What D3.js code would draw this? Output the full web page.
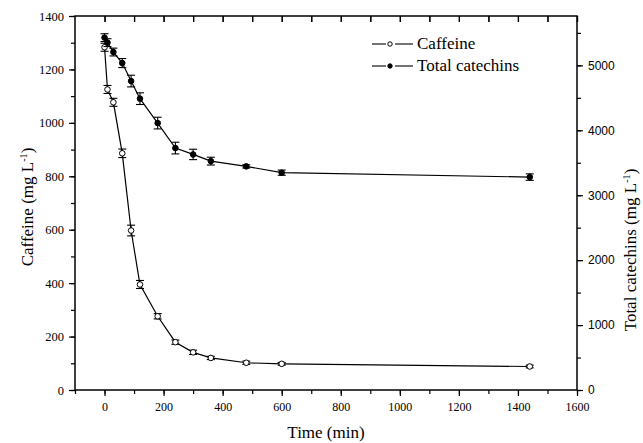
<!DOCTYPE html>
<html>
<head>
<meta charset="utf-8">
<script src="https://cdn.jsdelivr.net/npm/d3@7"></script>
<style>
    body { margin: 0; background: #fff; }
</style>
</head>
<body>
<svg id="canvas" width="643" height="443"></svg>
<script>
// sampling times (min)
const times = [0, 10, 30, 60, 90, 120, 180, 240, 300, 360, 480, 600, 1440];
// caffeine (mg/L) and its error
const caffeine = [1283, 1125, 1077, 886, 597, 395, 276, 179, 141, 120, 102, 98, 88];
const caffeineErr = [15, 15, 15, 16, 20, 15, 10, 8, 8, 6, 6, 5, 5];
// total catechins (mg/L) and its error
const catechins = [5427, 5350, 5205, 5035, 4758, 4487, 4111, 3726, 3628, 3525, 3444, 3347, 3279];
const catechinsErr = [60, 60, 60, 70, 90, 90, 90, 90, 80, 60, 25, 40, 50];

const xTicks = [0, 200, 400, 600, 800, 1000, 1200, 1400, 1600];
const leftTicks = [0, 200, 400, 600, 800, 1000, 1200, 1400];
const rightTicks = [0, 1000, 2000, 3000, 4000, 5000];

const SERIF = "'Liberation Serif', 'Times New Roman', Times, serif";
const SANS = "'Liberation Sans', Arial, Helvetica, sans-serif";

const svg = d3.select("#canvas");
const plotLeft = 75, plotRight = 577, plotTop = 16, plotBottom = 390;

const x = d3.scaleLinear().domain([-100, 1600]).range([plotLeft, plotRight]);
const yL = d3.scaleLinear().domain([0, 1400]).range([plotBottom, plotTop]);
const yR = d3.scaleLinear().domain([0, 5760]).range([plotBottom, plotTop]);

/**
 * Draws an axis with long major ticks and short minor ticks, no domain path.
 */
function drawAxis(axisFn, scale, pos, majors, minors, majorLen, minorLen, labels, family, size) {
    const gMinor = svg.append("g").attr("transform", pos)
        .call(axisFn(scale).tickValues(minors).tickSize(minorLen).tickFormat(""));
    gMinor.select(".domain").remove();
    const gMajor = svg.append("g").attr("transform", pos)
        .call(axisFn(scale).tickValues(majors).tickSize(majorLen).tickPadding(5)
            .tickFormat(labels ? d3.format("d") : ""));
    gMajor.select(".domain").remove();
    gMajor.selectAll("text")
        .style("font-family", family)
        .style("font-size", size + "px")
        .attr("fill", "#000");
    svg.selectAll("g .tick line").attr("stroke", "#000").attr("stroke-width", 1.2);
    return gMajor;
}

// bottom axis
const gx = drawAxis(d3.axisBottom, x, `translate(0,${plotBottom})`, xTicks,
    d3.range(-100, 1601, 100), 6, 4, true, SERIF, 12);
gx.selectAll("text").attr("dy", "0.85em");
// top axis (inward ticks)
drawAxis(d3.axisBottom, x, `translate(0,${plotTop})`, d3.range(0, 1601, 100),
    d3.range(0, 1601, 100), 6, 6, false, SERIF, 12);
// left axis
drawAxis(d3.axisLeft, yL, `translate(${plotLeft},0)`, leftTicks,
    d3.range(0, 1401, 100), 6, 4, true, SERIF, 12.5);
// right axis
drawAxis(d3.axisRight, yR, `translate(${plotRight},0)`, rightTicks,
    d3.range(0, 5501, 500), 6, 4, true, SANS, 12);

// frame
svg.append("rect")
    .attr("x", plotLeft).attr("y", plotTop)
    .attr("width", plotRight - plotLeft).attr("height", plotBottom - plotTop)
    .attr("fill", "none").attr("stroke", "#000").attr("stroke-width", 1.5);

/**
 * Draws one series: connecting line, error bars and circle markers.
 */
function drawSeries(values, errs, yScale, filled) {
    const pts = times.map((t, i) => ({t: t, v: values[i], e: errs[i]}));
    svg.append("path")
        .datum(pts)
        .attr("fill", "none")
        .attr("stroke", "#000")
        .attr("stroke-width", 1.2)
        .attr("d", d3.line().x(d => x(d.t)).y(d => yScale(d.v)));

    const eb = svg.append("g").attr("stroke", "#000").attr("stroke-width", 1.1);
    pts.forEach(d => {
        const cx = x(d.t), y1 = yScale(d.v + d.e), y2 = yScale(d.v - d.e);
        eb.append("line").attr("x1", cx).attr("x2", cx).attr("y1", y1).attr("y2", y2);
        eb.append("line").attr("x1", cx - 4).attr("x2", cx + 4).attr("y1", y1).attr("y2", y1);
        eb.append("line").attr("x1", cx - 4).attr("x2", cx + 4).attr("y1", y2).attr("y2", y2);
    });

    svg.append("g").selectAll("circle")
        .data(pts)
        .enter()
        .append("circle")
        .attr("cx", d => x(d.t))
        .attr("cy", d => yScale(d.v))
        .attr("r", 2.8)
        .attr("fill", filled ? "#000" : "#fff")
        .attr("stroke", "#000")
        .attr("stroke-width", 1);
}

drawSeries(caffeine, caffeineErr, yL, false);
drawSeries(catechins, catechinsErr, yR, true);

// legend
const legend = [{name: "Caffeine", filled: false, y: 44}, {name: "Total catechins", filled: true, y: 66}];
legend.forEach(l => {
    svg.append("line").attr("x1", 372).attr("x2", 386).attr("y1", l.y).attr("y2", l.y)
        .attr("stroke", "#000").attr("stroke-width", 1.1);
    svg.append("line").attr("x1", 395).attr("x2", 413).attr("y1", l.y).attr("y2", l.y)
        .attr("stroke", "#000").attr("stroke-width", 1.1);
    svg.append("circle").attr("cx", 390).attr("cy", l.y).attr("r", 2.2)
        .attr("fill", l.filled ? "#000" : "#fff").attr("stroke", "#000");
    svg.append("text").style("font-family", SERIF).attr("x", 417).attr("y", l.y + 5)
        .style("font-size", "17px").text(l.name);
});

// axis titles
svg.append("text").style("font-family", SERIF)
    .attr("x", 326).attr("y", 438)
    .attr("text-anchor", "middle").style("font-size", "17px").text("Time (min)");

function unitTitle(text, tx, ty, size) {
    const t = svg.append("text").style("font-family", SERIF)
        .attr("transform", `translate(${tx},${ty}) rotate(-90)`)
        .attr("text-anchor", "middle").style("font-size", size + "px");
    t.append("tspan").text(text + " (mg L");
    t.append("tspan").attr("dy", -6).style("font-size", (size * 0.6) + "px").text("-1");
    t.append("tspan").attr("dy", 6).text(")");
}
unitTitle("Caffeine", 33, 207, 17);
unitTitle("Total catechins", 636, 250, 17);
</script>
</body>
</html>
